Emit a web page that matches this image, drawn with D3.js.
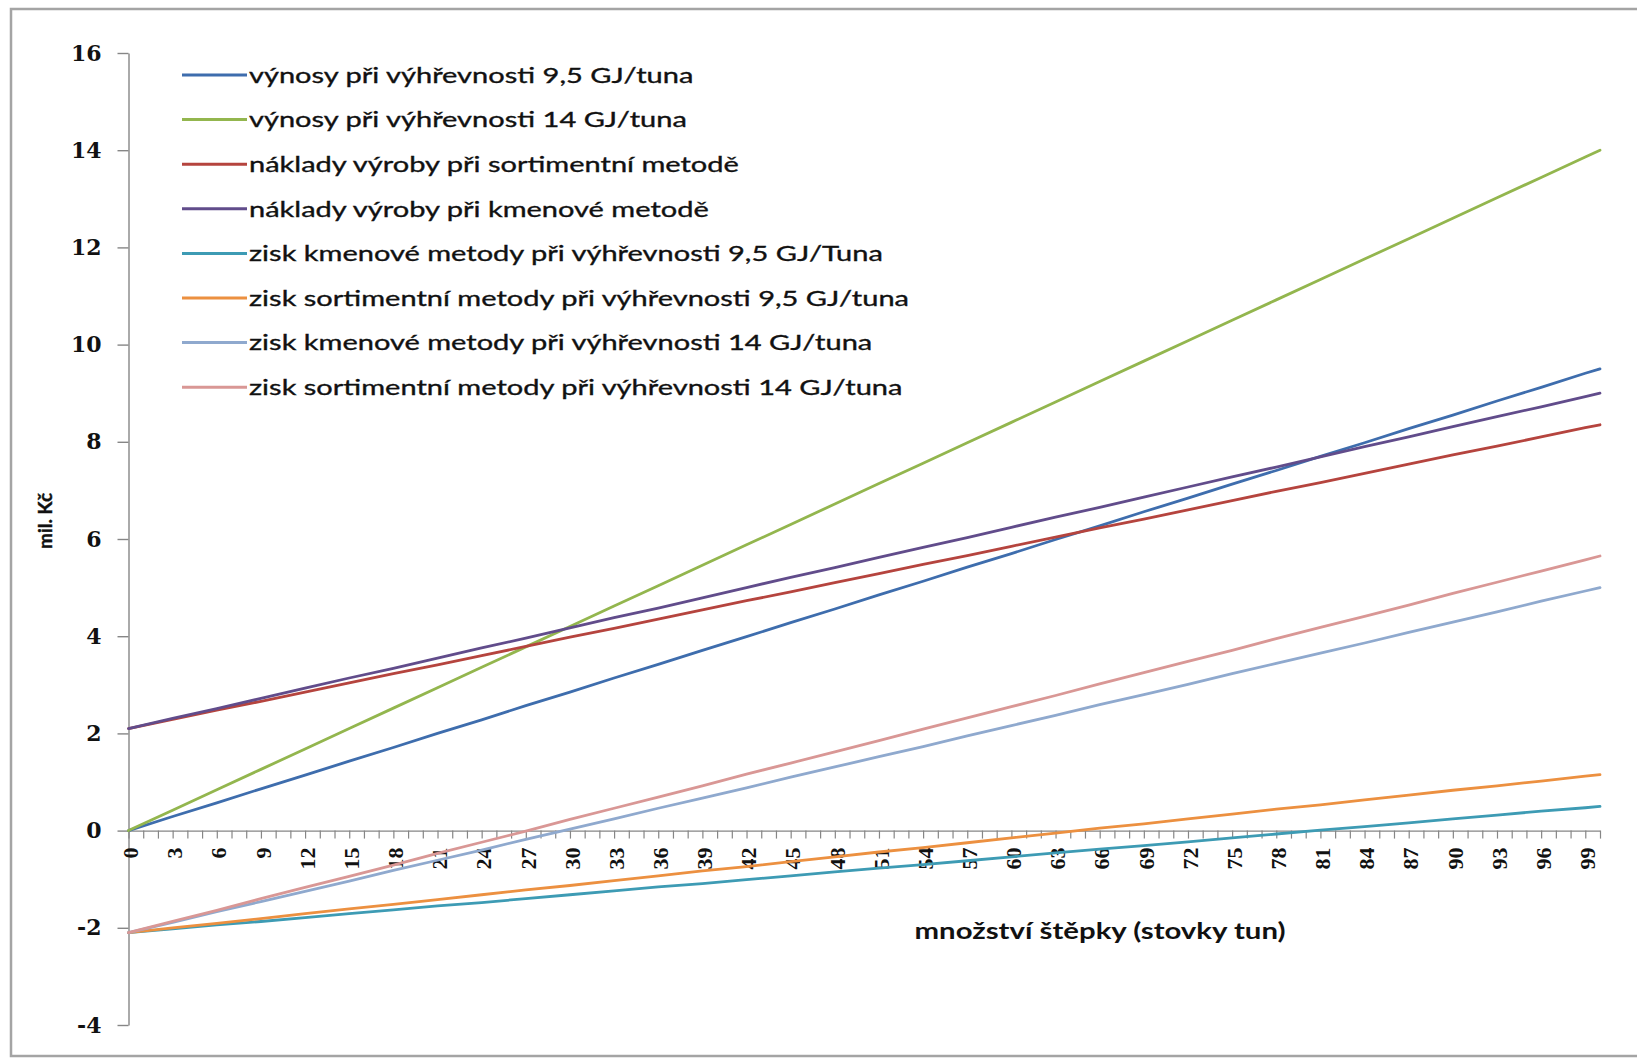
<!DOCTYPE html>
<html>
<head>
<meta charset="utf-8">
<script src="https://cdn.jsdelivr.net/npm/d3@7"></script>
<style>
  body { margin: 0; background: #fff; }
  svg { display: block; }
</style>
</head>
<body>
<svg id="chart" width="1637" height="1059"></svg>
<script>
// Category axis: množství štěpky (stovky tun), 0 … 100
const categories = d3.range(0, 101);
// Quantities at which the series values are listed
const quantities = [0, 3, 6, 9, 12, 15, 18, 21, 24, 27, 30, 33, 36, 39, 42, 45, 48, 51, 54, 57,
  60, 63, 66, 69, 72, 75, 78, 81, 84, 87, 90, 93, 96, 99, 100];
const xTickLabels = [0, 3, 6, 9, 12, 15, 18, 21, 24, 27, 30, 33, 36, 39, 42, 45, 48, 51, 54, 57,
  60, 63, 66, 69, 72, 75, 78, 81, 84, 87, 90, 93, 96, 99];
const yTicks = [-4, -2, 0, 2, 4, 6, 8, 10, 12, 14, 16];

// Series values, mil. Kč
const vynosy95 = [0, 0.29, 0.57, 0.86, 1.14, 1.43, 1.71, 2.00, 2.28, 2.57, 2.85, 3.14, 3.42, 3.71,
  3.99, 4.28, 4.56, 4.85, 5.13, 5.42, 5.70, 5.99, 6.27, 6.56, 6.84, 7.13, 7.41, 7.70, 7.98, 8.27,
  8.55, 8.84, 9.12, 9.41, 9.50];
const vynosy14 = [0, 0.42, 0.84, 1.26, 1.68, 2.10, 2.52, 2.94, 3.36, 3.78, 4.20, 4.62, 5.04, 5.46,
  5.88, 6.30, 6.72, 7.14, 7.56, 7.98, 8.40, 8.82, 9.24, 9.66, 10.08, 10.50, 10.92, 11.34, 11.76,
  12.18, 12.60, 13.02, 13.44, 13.86, 14.00];
const nakladySortiment = [2.10, 2.29, 2.48, 2.66, 2.85, 3.04, 3.23, 3.41, 3.60, 3.79, 3.98, 4.16,
  4.35, 4.54, 4.73, 4.91, 5.10, 5.29, 5.48, 5.66, 5.85, 6.04, 6.23, 6.41, 6.60, 6.79, 6.98, 7.16,
  7.35, 7.54, 7.73, 7.91, 8.10, 8.29, 8.35];
const nakladyKmen = [2.10, 2.31, 2.51, 2.72, 2.93, 3.14, 3.34, 3.55, 3.76, 3.96, 4.17, 4.38, 4.58,
  4.79, 5.00, 5.21, 5.41, 5.62, 5.83, 6.03, 6.24, 6.45, 6.65, 6.86, 7.07, 7.28, 7.48, 7.69, 7.90,
  8.10, 8.31, 8.52, 8.72, 8.93, 9.00];
const ziskKmen95 = [-2.10, -2.02, -1.94, -1.87, -1.79, -1.71, -1.63, -1.55, -1.48, -1.40, -1.32,
  -1.24, -1.16, -1.09, -1.01, -0.93, -0.85, -0.77, -0.70, -0.62, -0.54, -0.46, -0.38, -0.31, -0.23,
  -0.15, -0.07, 0.01, 0.08, 0.16, 0.24, 0.32, 0.40, 0.47, 0.50];
const ziskSortiment95 = [-2.10, -2.00, -1.91, -1.81, -1.71, -1.61, -1.52, -1.42, -1.32, -1.22,
  -1.13, -1.03, -0.93, -0.83, -0.74, -0.64, -0.54, -0.44, -0.35, -0.25, -0.15, -0.05, 0.05, 0.14,
  0.24, 0.34, 0.44, 0.53, 0.63, 0.73, 0.83, 0.92, 1.02, 1.12, 1.15];
const ziskKmen14 = [-2.10, -1.89, -1.67, -1.46, -1.25, -1.04, -0.82, -0.61, -0.40, -0.18, 0.03,
  0.24, 0.46, 0.67, 0.88, 1.10, 1.31, 1.52, 1.73, 1.95, 2.16, 2.37, 2.59, 2.80, 3.01, 3.23, 3.44,
  3.65, 3.86, 4.08, 4.29, 4.50, 4.72, 4.93, 5.00];
const ziskSortiment14 = [-2.10, -1.87, -1.64, -1.40, -1.17, -0.94, -0.71, -0.47, -0.24, -0.01,
  0.23, 0.46, 0.69, 0.92, 1.16, 1.39, 1.62, 1.85, 2.09, 2.32, 2.55, 2.78, 3.02, 3.25, 3.48, 3.71,
  3.95, 4.18, 4.41, 4.64, 4.88, 5.11, 5.34, 5.57, 5.65];

const seriesNames = [
  "výnosy při výhřevnosti 9,5 GJ/tuna",
  "výnosy při výhřevnosti 14 GJ/tuna",
  "náklady výroby při sortimentní metodě",
  "náklady výroby při kmenové metodě",
  "zisk kmenové metody při výhřevnosti 9,5 GJ/Tuna",
  "zisk sortimentní metody při výhřevnosti 9,5 GJ/tuna",
  "zisk kmenové metody při výhřevnosti 14 GJ/tuna",
  "zisk sortimentní metody při výhřevnosti 14 GJ/tuna"
];
const seriesValues = [vynosy95, vynosy14, nakladySortiment, nakladyKmen,
  ziskKmen95, ziskSortiment95, ziskKmen14, ziskSortiment14];
const seriesColors = ["#3E6DAD", "#93B64E", "#B5443E", "#614C8B",
  "#3D9BB4", "#EC9040", "#8FA9CE", "#D99795"];

const svg = d3.select("#chart");

// outer frame
svg.append("rect")
  .attr("x", 11).attr("y", 9).attr("width", 1700).attr("height", 1047)
  .attr("fill", "#fff").attr("stroke", "#a4a4a4").attr("stroke-width", 2.5);

const x = d3.scalePoint().domain(categories).range([128.5, 1600]);
const y = d3.scaleLinear().domain([-4, 16]).range([1025, 53]);

const axisColor = "#868686";

// y axis
const yAxis = svg.append("g")
  .attr("transform", `translate(${x(0)},0)`)
  .call(d3.axisLeft(y).tickValues(yTicks).tickSize(11).tickSizeOuter(0).tickPadding(16)
    .tickFormat(d => String(d)));
yAxis.select(".domain").attr("stroke", axisColor).attr("stroke-width", 1.4);
yAxis.selectAll(".tick line").attr("stroke", axisColor).attr("stroke-width", 1.4);
yAxis.selectAll(".tick text")
  .attr("font-family", "'DejaVu Serif', serif")
  .attr("font-weight", "bold")
  .attr("font-size", 22)
  .attr("fill", "#111");

// x axis: minor ticks at every category
const xAxis = svg.append("g")
  .attr("transform", `translate(0,${y(0)})`)
  .call(d3.axisBottom(x).tickValues(categories).tickSize(8).tickSizeOuter(0).tickFormat(""));
xAxis.select(".domain").attr("stroke", axisColor).attr("stroke-width", 1.4);
xAxis.selectAll(".tick line").attr("stroke", axisColor).attr("stroke-width", 1.2);

// x tick labels, rotated
svg.append("g").selectAll("text")
  .data(xTickLabels)
  .join("text")
  .attr("transform", d => `translate(${x(d) + 2},${y(0) + 17}) rotate(-90)`)
  .attr("text-anchor", "end")
  .attr("dy", "0.35em")
  .attr("font-family", "'Liberation Serif', serif")
  .attr("font-weight", "bold")
  .attr("font-size", 22)
  .attr("fill", "#111")
  .text(d => d);

// axis titles
svg.append("text")
  .attr("transform", `translate(52,521) rotate(-90)`)
  .attr("text-anchor", "middle")
  .attr("font-family", "Lato, sans-serif")
  .attr("font-weight", "bold")
  .attr("font-size", 19)
  .attr("fill", "#111")
  .attr("stroke", "#111")
  .attr("stroke-width", 0.4)
  .text("mil. Kč");

svg.append("text")
  .attr("x", 1100).attr("y", 939)
  .attr("text-anchor", "middle")
  .attr("font-family", "Lato, sans-serif")
  .attr("font-weight", "bold")
  .attr("font-size", 22)
  .attr("textLength", 371)
  .attr("lengthAdjust", "spacingAndGlyphs")
  .attr("fill", "#111")
  .text("množství štěpky (stovky tun)");

// series lines
const line = d3.line()
  .x((d, i) => x(quantities[i]))
  .y(d => y(d));

svg.append("g").selectAll("path")
  .data(seriesValues)
  .join("path")
  .attr("d", d => line(d))
  .attr("fill", "none")
  .attr("stroke", (d, i) => seriesColors[i])
  .attr("stroke-width", 2.8)
  .attr("stroke-linejoin", "round")
  .attr("stroke-linecap", "round");

// legend
const legend = svg.append("g");
const rowY = i => 75 + i * 44.6;
legend.selectAll("line")
  .data(seriesNames)
  .join("line")
  .attr("x1", 182).attr("x2", 247)
  .attr("y1", (d, i) => rowY(i)).attr("y2", (d, i) => rowY(i))
  .attr("stroke", (d, i) => seriesColors[i])
  .attr("stroke-width", 3);
const legendText = legend.selectAll("text")
  .data(seriesNames)
  .join("text")
  .attr("x", 249)
  .attr("y", (d, i) => rowY(i))
  .attr("dy", "0.35em")
  .attr("font-family", "Lato, sans-serif")
  .attr("font-size", 22)
  .attr("fill", "#111")
  .attr("stroke", "#111")
  .attr("stroke-width", 0.35)
  .text(d => d);
// condense the legend text so the longest entry spans 660 px
const natural = legendText.nodes().map(n => n.getComputedTextLength());
const k = 660 / d3.max(natural);
legendText
  .attr("textLength", (d, i) => natural[i] * k)
  .attr("lengthAdjust", "spacingAndGlyphs");
</script>
</body>
</html>
